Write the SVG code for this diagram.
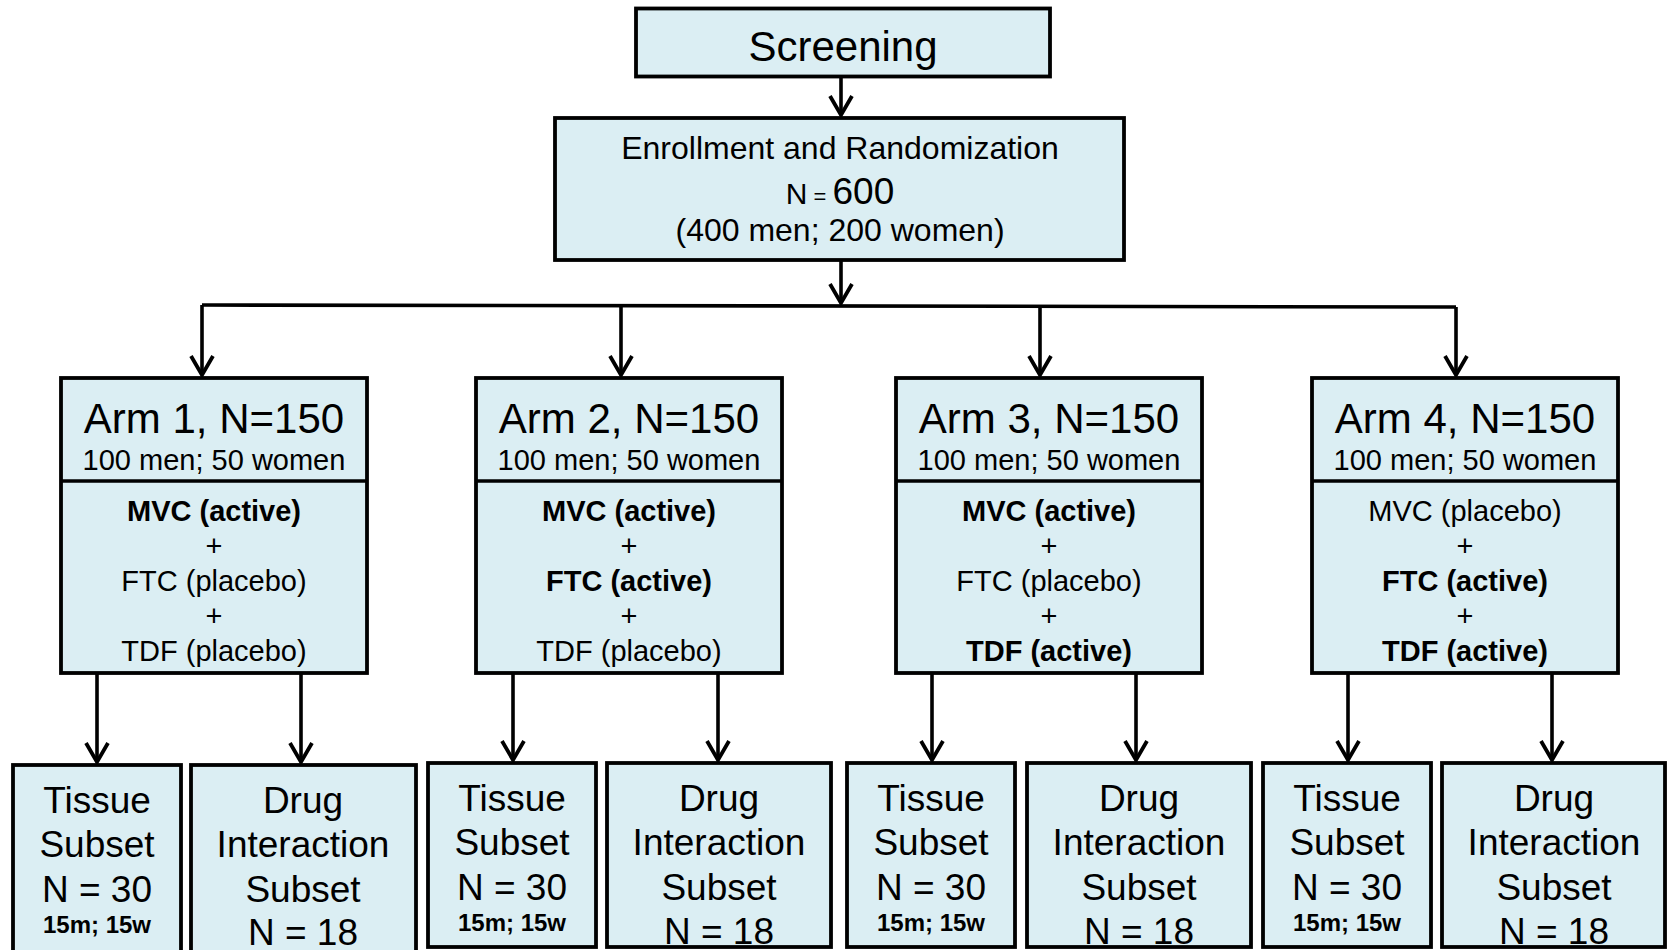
<svg xmlns="http://www.w3.org/2000/svg" width="1667" height="950" viewBox="0 0 1667 950">
<defs>
<style>
.box{fill:#DBEEF3;stroke:#000;stroke-width:3.8}
.ln{fill:none;stroke:#000;stroke-width:3.6}
text{font-family:"Liberation Sans",Arial,sans-serif;fill:#000;text-anchor:middle}
.t42{font-size:42px}
.t32{font-size:32px}
.t29{font-size:29px}
.b29{font-size:29px;font-weight:bold}
.t37{font-size:37px}
.b23{font-size:24px;font-weight:bold}
</style>
<marker id="ah" markerUnits="userSpaceOnUse" orient="auto" markerWidth="26" markerHeight="30" viewBox="-23 -15 26 30" refX="0" refY="0">
<path d="M-19,-11 L0,0 L-19,11" fill="none" stroke="#000" stroke-width="3.8"/>
</marker>
</defs>
<rect width="1667" height="950" fill="#fff"/>

<g id="connectors">
<line class="ln" x1="841" y1="77" x2="841" y2="115" marker-end="url(#ah)"/>
<line class="ln" x1="841" y1="260" x2="841" y2="303" marker-end="url(#ah)"/>
<path class="ln" d="M202,305 L1456,307"/>
<line class="ln" x1="202" y1="305" x2="202" y2="375" marker-end="url(#ah)"/>
<line class="ln" x1="621" y1="306" x2="621" y2="375" marker-end="url(#ah)"/>
<line class="ln" x1="1040" y1="306" x2="1040" y2="375" marker-end="url(#ah)"/>
<line class="ln" x1="1456" y1="307" x2="1456" y2="375" marker-end="url(#ah)"/>
<line class="ln" x1="97" y1="673" x2="97" y2="762" marker-end="url(#ah)"/>
<line class="ln" x1="301" y1="673" x2="301" y2="762" marker-end="url(#ah)"/>
<line class="ln" x1="513" y1="673" x2="513" y2="760" marker-end="url(#ah)"/>
<line class="ln" x1="718" y1="673" x2="718" y2="760" marker-end="url(#ah)"/>
<line class="ln" x1="932" y1="673" x2="932" y2="760" marker-end="url(#ah)"/>
<line class="ln" x1="1136" y1="673" x2="1136" y2="760" marker-end="url(#ah)"/>
<line class="ln" x1="1348" y1="673" x2="1348" y2="760" marker-end="url(#ah)"/>
<line class="ln" x1="1552" y1="673" x2="1552" y2="760" marker-end="url(#ah)"/>
</g>

<g id="screening">
<rect class="box" x="636" y="8.5" width="414" height="68"/>
<text class="t42" x="843" y="61">Screening</text>
</g>

<g id="enrollment">
<rect class="box" x="555" y="118" width="569" height="142"/>
<text class="t32" x="840" y="159">Enrollment and Randomization</text>
<text x="840" y="204"><tspan font-size="30px">N</tspan><tspan font-size="22px"> = </tspan><tspan font-size="37px">600</tspan></text>
<text class="t32" x="840" y="241">(400 men; 200 women)</text>
</g>

<g id="arm1">
<rect class="box" x="61" y="378" width="306" height="295"/>
<line class="ln" x1="61" y1="481" x2="367" y2="481"/>
<text class="t42" x="214" y="433">Arm 1, N=150</text>
<text class="t29" x="214" y="470">100 men; 50 women</text>
<text class="b29" x="214" y="521">MVC (active)</text>
<text class="t29" x="214" y="556">+</text>
<text class="t29" x="214" y="591">FTC (placebo)</text>
<text class="t29" x="214" y="626">+</text>
<text class="t29" x="214" y="661">TDF (placebo)</text>
</g>

<g id="arm2">
<rect class="box" x="476" y="378" width="306" height="295"/>
<line class="ln" x1="476" y1="481" x2="782" y2="481"/>
<text class="t42" x="629" y="433">Arm 2, N=150</text>
<text class="t29" x="629" y="470">100 men; 50 women</text>
<text class="b29" x="629" y="521">MVC (active)</text>
<text class="t29" x="629" y="556">+</text>
<text class="b29" x="629" y="591">FTC (active)</text>
<text class="t29" x="629" y="626">+</text>
<text class="t29" x="629" y="661">TDF (placebo)</text>
</g>

<g id="arm3">
<rect class="box" x="896" y="378" width="306" height="295"/>
<line class="ln" x1="896" y1="481" x2="1202" y2="481"/>
<text class="t42" x="1049" y="433">Arm 3, N=150</text>
<text class="t29" x="1049" y="470">100 men; 50 women</text>
<text class="b29" x="1049" y="521">MVC (active)</text>
<text class="t29" x="1049" y="556">+</text>
<text class="t29" x="1049" y="591">FTC (placebo)</text>
<text class="t29" x="1049" y="626">+</text>
<text class="b29" x="1049" y="661">TDF (active)</text>
</g>

<g id="arm4">
<rect class="box" x="1312" y="378" width="306" height="295"/>
<line class="ln" x1="1312" y1="481" x2="1618" y2="481"/>
<text class="t42" x="1465" y="433">Arm 4, N=150</text>
<text class="t29" x="1465" y="470">100 men; 50 women</text>
<text class="t29" x="1465" y="521">MVC (placebo)</text>
<text class="t29" x="1465" y="556">+</text>
<text class="b29" x="1465" y="591">FTC (active)</text>
<text class="t29" x="1465" y="626">+</text>
<text class="b29" x="1465" y="661">TDF (active)</text>
</g>

<g id="tissue1">
<rect class="box" x="13" y="765" width="168" height="200"/>
<text class="t37" x="97" y="813">Tissue</text>
<text class="t37" x="97" y="857">Subset</text>
<text class="t37" x="97" y="902">N = 30</text>
<text class="b23" x="97" y="933">15m; 15w</text>
</g>
<g id="drug1">
<rect class="box" x="191" y="765" width="225" height="200"/>
<text class="t37" x="303" y="813">Drug</text>
<text class="t37" x="303" y="857">Interaction</text>
<text class="t37" x="303" y="902">Subset</text>
<text class="t37" x="303" y="945">N = 18</text>
</g>

<g id="tissue2">
<rect class="box" x="428" y="763" width="168" height="184"/>
<text class="t37" x="512" y="811">Tissue</text>
<text class="t37" x="512" y="855">Subset</text>
<text class="t37" x="512" y="900">N = 30</text>
<text class="b23" x="512" y="931">15m; 15w</text>
</g>
<g id="drug2">
<rect class="box" x="607" y="763" width="224" height="184"/>
<text class="t37" x="719" y="811">Drug</text>
<text class="t37" x="719" y="855">Interaction</text>
<text class="t37" x="719" y="900">Subset</text>
<text class="t37" x="719" y="944">N = 18</text>
</g>

<g id="tissue3">
<rect class="box" x="847" y="763" width="168" height="184"/>
<text class="t37" x="931" y="811">Tissue</text>
<text class="t37" x="931" y="855">Subset</text>
<text class="t37" x="931" y="900">N = 30</text>
<text class="b23" x="931" y="931">15m; 15w</text>
</g>
<g id="drug3">
<rect class="box" x="1027" y="763" width="224" height="184"/>
<text class="t37" x="1139" y="811">Drug</text>
<text class="t37" x="1139" y="855">Interaction</text>
<text class="t37" x="1139" y="900">Subset</text>
<text class="t37" x="1139" y="944">N = 18</text>
</g>

<g id="tissue4">
<rect class="box" x="1263" y="763" width="168" height="184"/>
<text class="t37" x="1347" y="811">Tissue</text>
<text class="t37" x="1347" y="855">Subset</text>
<text class="t37" x="1347" y="900">N = 30</text>
<text class="b23" x="1347" y="931">15m; 15w</text>
</g>
<g id="drug4">
<rect class="box" x="1442" y="763" width="223" height="184"/>
<text class="t37" x="1554" y="811">Drug</text>
<text class="t37" x="1554" y="855">Interaction</text>
<text class="t37" x="1554" y="900">Subset</text>
<text class="t37" x="1554" y="944">N = 18</text>
</g>
</svg>
